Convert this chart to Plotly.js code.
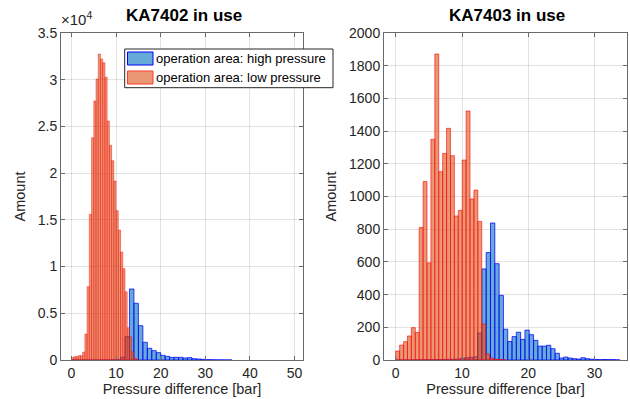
<!DOCTYPE html>
<html>
<head>
<meta charset="utf-8">
<script src="https://cdn.plot.ly/plotly-3.0.1.min.js"></script>
<style>
  html, body { margin: 0; padding: 0; background: #ffffff; }
  #chart { width: 630px; height: 399px; }
</style>
</head>
<body>
<div id="chart"></div>
<script>
// ---------- data ----------
// Left panel: KA7402 in use
const leftTitle = "KA7402 in use";
const leftHighStart = 0;
const leftHighWidth = 1;
const leftHighCounts = [0, 0, 0, 0, 0, 0, 0, 0, 10, 30, 60, 300, 2500, 7600, 6068, 3671, 1894, 1252, 999, 785, 500, 392, 285, 285, 285, 214, 250, 143, 107, 71, 40, 25, 15, 10, 6, 3];
const leftLowStart = 0;
const leftLowWidth = 0.5;
const leftLowCounts = [250, 357, 357, 464, 470, 856, 2783, 7850, 15594, 23795, 27721, 30076, 32751, 32216, 31822, 30255, 25580, 22979, 21331, 19158, 15980, 13914, 11559, 9773, 7300, 3457, 2494, 888, 200, 40];
const leftYTickVals = [0, 5000, 10000, 15000, 20000, 25000, 30000, 35000];
const leftYTickText = ["0", "0.5", "1", "1.5", "2", "2.5", "3", "3.5"];
const leftXTicks = [0, 10, 20, 30, 40, 50];

// Right panel: KA7403 in use
const rightTitle = "KA7403 in use";
const rightHighStart = 0;
const rightHighWidth = 0.65;
const rightHighCounts = [0, 0, 0, 0, 1, 1, 1, 2, 2, 3, 3, 4, 4, 5, 6, 10, 14, 16, 20, 165, 557, 657, 838, 589, 395, 188, 113, 143, 170, 126, 183, 155, 120, 85, 85, 90, 69, 41, 12, 18, 12, 8, 6, 14, 8, 5, 3, 2, 3, 2, 2, 1];
const rightLowStart = 0;
const rightLowWidth = 0.59;
const rightLowCounts = [55, 91, 112, 147, 198, 169, 810, 1091, 594, 1350, 1872, 1152, 1263, 1417, 1250, 881, 915, 1223, 1523, 985, 1039, 847, 220, 37, 12, 5, 3, 2];
const rightYTicks = [0, 200, 400, 600, 800, 1000, 1200, 1400, 1600, 1800, 2000];
const rightXTicks = [0, 10, 20, 30];

const seriesNames = ["operation area: high pressure", "operation area: low pressure"];
const xLabel = "Pressure difference [bar]";
const yLabel = "Amount";
const exponentLabel = "\u00d710<sup>4</sup>";

// ---------- helpers ----------
function centers(start, width, counts) {
  return counts.map((_, i) => start + (i + 0.5) * width);
}

const blueFill = "rgba(0,114,189,0.6)";
const blueEdge = "rgba(0,0,255,0.75)";
const redFill = "rgba(217,83,25,0.6)";
const redEdge = "rgba(255,0,0,0.6)";

function barTrace(start, width, counts, name, fill, edge, edgeW, xa, ya) {
  return {
    type: "bar",
    x: centers(start, width, counts),
    y: counts,
    width: width,
    name: name,
    xaxis: xa,
    yaxis: ya,
    showlegend: false,
    marker: { color: fill, line: { color: edge, width: edgeW } },
    hoverinfo: "x+y"
  };
}

const traces = [
  barTrace(leftHighStart, leftHighWidth, leftHighCounts, seriesNames[0], blueFill, blueEdge, 1, "x", "y"),
  barTrace(leftLowStart, leftLowWidth, leftLowCounts, seriesNames[1], redFill, redEdge, 0.7, "x", "y"),
  barTrace(rightHighStart, rightHighWidth, rightHighCounts, seriesNames[0], blueFill, blueEdge, 1, "x2", "y2"),
  barTrace(rightLowStart, rightLowWidth, rightLowCounts, seriesNames[1], redFill, redEdge, 1, "x2", "y2")
];

const FONT = "Liberation Sans, Arial, Helvetica, sans-serif";
const TXT = "#262626";
const GRID = "rgba(38,38,38,0.13)";
const LINE = "#6a6a6a";
const W = 630, H = 399;
const px = v => v / W;
const py = v => 1 - v / H;

function axisCommon() {
  return {
    showline: true,
    linecolor: LINE,
    linewidth: 1,
    mirror: "ticks",
    ticks: "inside",
    ticklen: 4,
    tickcolor: LINE,
    showgrid: true,
    gridcolor: GRID,
    gridwidth: 1,
    zeroline: false,
    tickfont: { family: FONT, size: 14, color: TXT },
    fixedrange: true
  };
}

const yDom = [39 / 399, 366 / 399];
const labelFont = { family: FONT, size: 14.5, color: TXT };

// legend (drawn like the MATLAB legend box)
const legendBox = { x0: 124.7, x1: 333, y0: 49, y1: 87.7 };
const legendRows = [58.5, 77.5];
const legendFills = [blueFill, redFill];
const legendEdges = ["rgb(0,0,255)", "rgb(255,60,40)"];

const shapes = [
  {
    type: "rect", xref: "paper", yref: "paper", layer: "above",
    x0: px(legendBox.x0), x1: px(legendBox.x1), y0: py(legendBox.y1), y1: py(legendBox.y0),
    fillcolor: "#ffffff", line: { color: "#262626", width: 1 }
  }
];
legendRows.forEach((cy, i) => {
  shapes.push({
    type: "rect", xref: "paper", yref: "paper", layer: "above",
    x0: px(127.5), x1: px(153), y0: py(cy + 6.5), y1: py(cy - 6.5),
    fillcolor: legendFills[i], line: { color: legendEdges[i], width: 1 }
  });
});

const annotations = [
  {
    text: "<b>" + leftTitle + "</b>",
    xref: "paper", yref: "paper",
    x: px(184), y: py(27),
    xanchor: "center", yanchor: "bottom",
    showarrow: false,
    font: { family: FONT, size: 17, color: "#000000" }
  },
  {
    text: "<b>" + rightTitle + "</b>",
    xref: "paper", yref: "paper",
    x: px(507), y: py(27),
    xanchor: "center", yanchor: "bottom",
    showarrow: false,
    font: { family: FONT, size: 17, color: "#000000" }
  },
  {
    text: exponentLabel,
    xref: "paper", yref: "paper",
    x: px(59), y: py(30),
    xanchor: "left", yanchor: "bottom",
    showarrow: false,
    font: { family: FONT, size: 15, color: TXT }
  }
];
legendRows.forEach((cy, i) => {
  annotations.push({
    text: seriesNames[i],
    xref: "paper", yref: "paper",
    x: px(153.5), y: py(cy),
    xanchor: "left", yanchor: "middle",
    showarrow: false,
    font: { family: FONT, size: 13, color: "#000000" }
  });
});

const layout = {
  width: W,
  height: H,
  margin: { l: 0, r: 0, t: 0, b: 0 },
  paper_bgcolor: "#ffffff",
  plot_bgcolor: "#ffffff",
  barmode: "overlay",
  bargap: 0,
  showlegend: false,
  font: { family: FONT, size: 13, color: TXT },
  xaxis: Object.assign(axisCommon(), {
    domain: [61 / 630, 303 / 630],
    range: [-2.35, 51.9],
    tickvals: leftXTicks,
    anchor: "y",
    title: { text: xLabel, font: labelFont, standoff: 1 }
  }),
  yaxis: Object.assign(axisCommon(), {
    domain: yDom,
    range: [0, 35000],
    tickvals: leftYTickVals,
    ticktext: leftYTickText,
    anchor: "x",
    title: { text: yLabel, font: labelFont, standoff: 8 }
  }),
  xaxis2: Object.assign(axisCommon(), {
    domain: [384 / 630, 627 / 630],
    range: [-1.77, 34.9],
    tickvals: rightXTicks,
    anchor: "y2",
    title: { text: xLabel, font: labelFont, standoff: 1 }
  }),
  yaxis2: Object.assign(axisCommon(), {
    domain: yDom,
    range: [0, 2000],
    tickvals: rightYTicks,
    anchor: "x2",
    title: { text: yLabel, font: labelFont, standoff: 8 }
  }),
  shapes: shapes,
  annotations: annotations
};

Plotly.newPlot("chart", traces, layout, { staticPlot: true, displayModeBar: false });
</script>
</body>
</html>
